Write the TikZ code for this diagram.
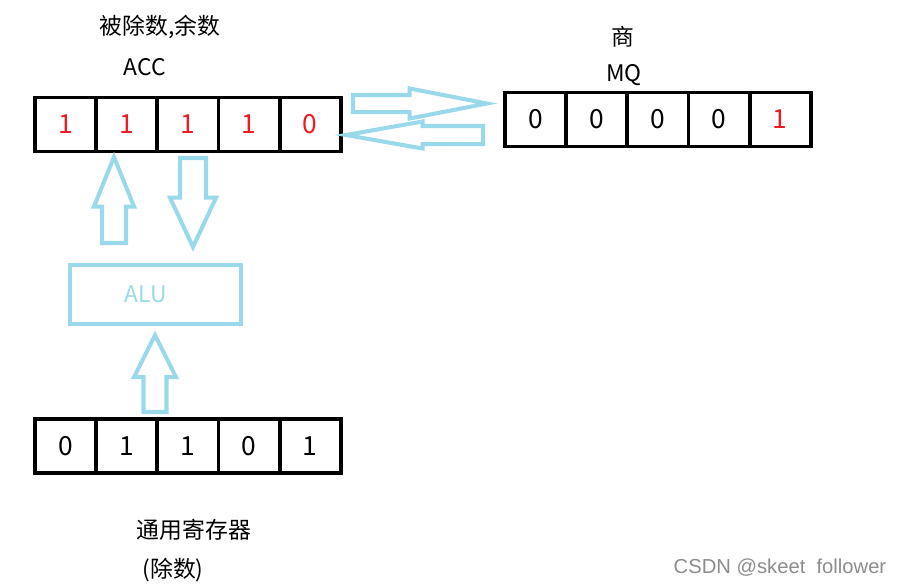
\documentclass[tikz,border=0pt]{standalone}
\usepackage{fontspec}
\setmainfont{Noto Sans CJK SC}
\newfontfamily\wmfont{Liberation Sans}
\usetikzlibrary{shapes.arrows, positioning, calc}
\definecolor{alublue}{HTML}{99D9EA}
\definecolor{bitred}{HTML}{ED1C24}

\begin{document}
\begin{tikzpicture}[x=0.02cm, y=-0.02cm,
        cell/.style={rectangle, draw=black, line width=2.2pt, minimum width=1.224cm, minimum height=1.08cm, inner sep=0pt, outer sep=0pt, font=\fontsize{15}{18}\selectfont},
        redbit/.style={cell, text=bitred},
        title/.style={font=\fontsize{13}{16}\selectfont, inner sep=1pt},
        barrow/.style={single arrow, draw=alublue, line width=2.3pt, inner xsep=0pt, outer sep=0pt, anchor=tail},
        unit/.style={rectangle, draw=alublue, line width=2.3pt, text=alublue, minimum width=3.42cm, minimum height=1.18cm, font=\fontsize{13}{16}\selectfont}
    ]
        \useasboundingbox (0,0) rectangle (900,586);

        % ACC register (dividend / remainder)
        \node[redbit] (acc1) at (65.5,124.5) {1};
        \node[redbit, right=0pt of acc1] (acc2) {1};
        \node[redbit, right=0pt of acc2] (acc3) {1};
        \node[redbit, right=0pt of acc3] (acc4) {1};
        \node[redbit, right=0pt of acc4] (acc5) {0};
        \node[title] (accname) at (145,67) {ACC};
        \node[title] (acctitle) at (160,27) {被除数,余数};

        % MQ register (quotient)
        \node[cell] (mq1) at (535.5,119.5) {0};
        \node[cell, right=0pt of mq1] (mq2) {0};
        \node[cell, right=0pt of mq2] (mq3) {0};
        \node[cell, right=0pt of mq3] (mq4) {0};
        \node[redbit, right=0pt of mq4] (mq5) {1};
        \node[title] (mqname) at (624,75) {MQ};
        \node[title] (mqtitle) at (623,37) {商};

        % general register (divisor)
        \node[cell] (reg1) at (65.5,446) {0};
        \node[cell, right=0pt of reg1] (reg2) {1};
        \node[cell, right=0pt of reg2] (reg3) {1};
        \node[cell, right=0pt of reg3] (reg4) {0};
        \node[cell, right=0pt of reg4] (reg5) {1};
        \node[title] (regtitle) at (194,530) {通用寄存器};
        \node[title] (regnote) at (173,570) {(除数)};

        % ALU
        \node[unit] (alu) at (155.5,294.5) {\hspace*{-0.4cm}ALU};

        % hollow arrows, placed by their tails
        \node[barrow, rotate=90, minimum height=1.72cm, inner ysep=0.2cm, single arrow head extend=0.16cm, single arrow tip angle=44] (alu2acc) at (114,243) {};
        \node[barrow, rotate=-90, minimum height=1.78cm, inner ysep=0.22cm, single arrow head extend=0.2cm, single arrow tip angle=50] (acc2alu) at (193,158) {};
        \node[barrow, rotate=90, minimum height=1.54cm, inner ysep=0.19cm, single arrow head extend=0.19cm, single arrow tip angle=53] (reg2alu) at (155,412) {};
        \node[barrow, minimum height=2.68cm, inner ysep=0.13cm, single arrow head extend=0.13cm, single arrow tip angle=22] (acc2mq) at (353,103.5) {};
        \node[barrow, rotate=180, minimum height=2.74cm, inner ysep=0.14cm, single arrow head extend=0.09cm, single arrow tip angle=20] (mq2acc) at (483,135) {};

        % watermark
        \node[text=black!45, font=\wmfont\fontsize{11.5}{14}\selectfont] (mark) at (780,568) {CSDN @skeet\ \ follower};
    \end{tikzpicture}
\end{document}
